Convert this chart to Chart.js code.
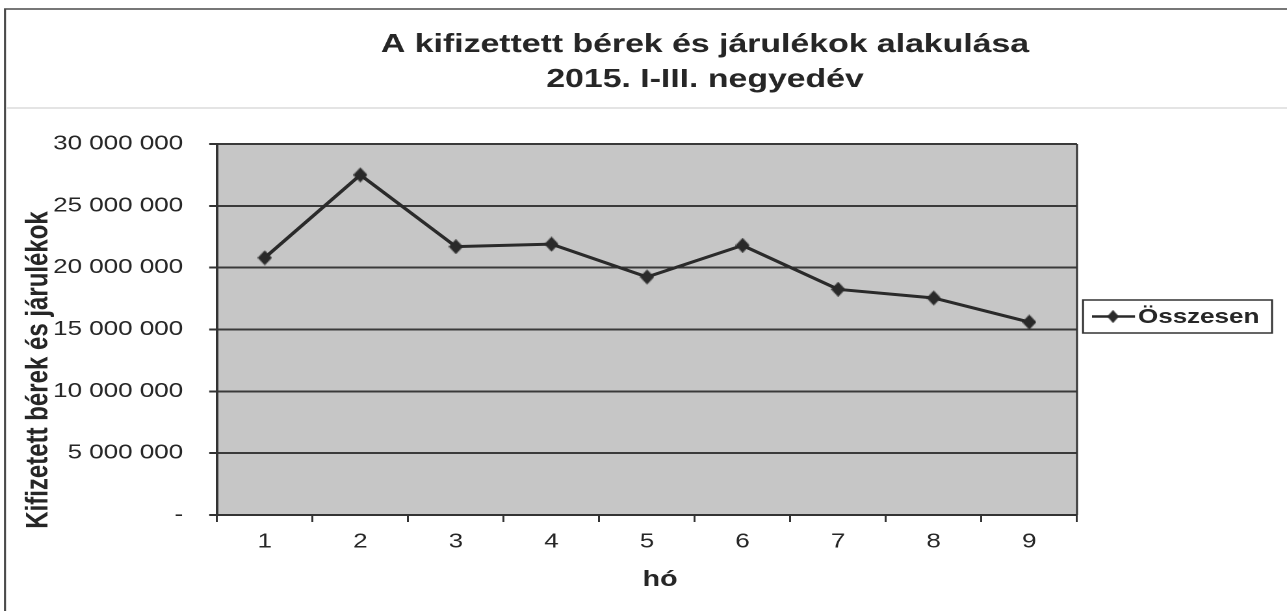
<!DOCTYPE html>
<html><head><meta charset="utf-8">
<script src="https://cdn.jsdelivr.net/npm/chart.js@4/dist/chart.umd.min.js"></script>
<style>html,body{margin:0;padding:0;background:#fff;overflow:hidden}
#c{display:block}</style>
</head><body>
<canvas id="c" width="990" height="611" style="width:1287px;height:611px"></canvas>
<script>
const categories = ['1', '2', '3', '4', '5', '6', '7', '8', '9'];
const seriesName = 'Összesen';
const seriesValues = [20800000, 27500000, 21700000, 21900000, 19250000, 21800000, 18250000, 17550000, 15600000];
const yTickValues = [0, 5000000, 10000000, 15000000, 20000000, 25000000, 30000000];
const chartTitle = ['A kifizettett bérek és járulékok alakulása', '2015. I-III. negyedév'];
const xTitle = 'hó';
const yTitle = 'Kifizetett bérek és járulékok';

const SX = 1287 / 990; // horizontal stretch of the reference picture
const FONT = "'Liberation Sans', Arial, sans-serif";
const TXT = '#262626';

function fmt(v) {
  if (v === 0) return '-';
  return String(v).replace(/\B(?=(\d{3})+(?!\d))/g, ' ');
}

// narrow diamond marker
const dia = document.createElement('canvas');
dia.width = 11; dia.height = 15;
(function () {
  const c = dia.getContext('2d');
  c.fillStyle = '#2a2a2a';
  c.beginPath(); c.moveTo(5.5, 0); c.lineTo(11, 7.5); c.lineTo(5.5, 15); c.lineTo(0, 7.5); c.closePath(); c.fill();
})();

const deco = {
  id: 'deco',
  beforeDraw(chart) {
    const ctx = chart.ctx, a = chart.chartArea;
    ctx.save();
    ctx.fillStyle = '#fff'; ctx.fillRect(0, 0, chart.width, chart.height);
    ctx.strokeStyle = '#4a4a4a'; ctx.lineWidth = 1.6;
    ctx.beginPath(); ctx.moveTo(5 / SX, 611); ctx.lineTo(5 / SX, 9); ctx.lineTo(chart.width, 9); ctx.stroke();
    ctx.strokeStyle = '#e4e4e4'; ctx.lineWidth = 2;
    ctx.beginPath(); ctx.moveTo(6 / SX, 108); ctx.lineTo(chart.width, 108); ctx.stroke();
    ctx.fillStyle = '#c6c6c6'; ctx.fillRect(a.left, a.top, a.right - a.left, a.bottom - a.top);
    ctx.restore();
  },
  afterDraw(chart) {
    const ctx = chart.ctx, a = chart.chartArea;
    ctx.save();
    // plot frame
    ctx.strokeStyle = '#333'; ctx.lineWidth = 1.5;
    ctx.beginPath(); ctx.moveTo(a.right, a.top); ctx.lineTo(a.right, a.bottom); ctx.stroke();
    // chart title
    ctx.fillStyle = TXT; ctx.textAlign = 'center'; ctx.textBaseline = 'middle';
    ctx.font = 'bold 26px ' + FONT;
    ctx.fillText(chartTitle[0], 705 / SX, 45);
    ctx.fillText(chartTitle[1], 705 / SX, 80);
    // x title
    ctx.font = 'bold 22px ' + FONT;
    ctx.fillText(xTitle, 660 / SX, 580);
    // y title
    ctx.save();
    ctx.translate(39 / SX, 370); ctx.rotate(-Math.PI / 2);
    ctx.font = 'bold 24px ' + FONT;
    ctx.fillText(yTitle, 0, 0);
    ctx.restore();
    // legend
    const lx0 = 1083 / SX, lx1 = 1272 / SX, ly0 = 300, ly1 = 333, cy = 316.5;
    ctx.strokeStyle = '#333'; ctx.lineWidth = 1.5;
    ctx.strokeRect(lx0, ly0, lx1 - lx0, ly1 - ly0);
    ctx.lineWidth = 2.5; ctx.strokeStyle = '#2a2a2a';
    ctx.beginPath(); ctx.moveTo(1092 / SX, cy); ctx.lineTo(1135 / SX, cy); ctx.stroke();
    ctx.drawImage(dia, 1113 / SX - 4.5, cy - 6.5, 9, 13);
    ctx.textAlign = 'left'; ctx.font = 'bold 20px ' + FONT;
    ctx.fillText(chart.data.datasets[0].label, 1138 / SX, cy + 1);
    ctx.restore();
  }
};

new Chart(document.getElementById('c'), {
  type: 'line',
  data: {
    labels: categories,
    datasets: [{
      label: seriesName,
      data: seriesValues,
      borderColor: '#2a2a2a',
      borderWidth: 3,
      pointStyle: dia,
      pointRadius: 8,
      tension: 0,
      fill: false
    }]
  },
  options: {
    responsive: false,
    devicePixelRatio: 2,
    animation: false,
    layout: { padding: { top: 144, right: 990 - 1077 / SX, bottom: 0, left: 0 } },
    plugins: { legend: { display: false }, title: { display: false }, tooltip: { enabled: false } },
    scales: {
      x: {
        offset: true,
        afterFit: s => { s.height = 96; },
        grid: { display: true, drawOnChartArea: false, drawTicks: true, tickLength: 7, offset: true, color: '#333', lineWidth: 1.5 },
        border: { display: true, color: '#333', width: 2 },
        ticks: { color: TXT, font: { family: FONT, size: 20 }, padding: 8, maxRotation: 0 }
      },
      y: {
        min: 0, max: 30000000,
        afterFit: s => { s.width = 217 / SX; },
        afterBuildTicks: s => { s.ticks = yTickValues.map(v => ({ value: v })); },
        grid: { color: '#3a3a3a', lineWidth: 2, drawTicks: true, tickLength: 6, tickColor: '#333' },
        border: { display: true, color: '#333', width: 2 },
        ticks: { color: TXT, font: { family: FONT, size: 20 }, padding: 20, callback: v => fmt(v) }
      }
    }
  },
  plugins: [deco]
});
</script>
</body></html>
